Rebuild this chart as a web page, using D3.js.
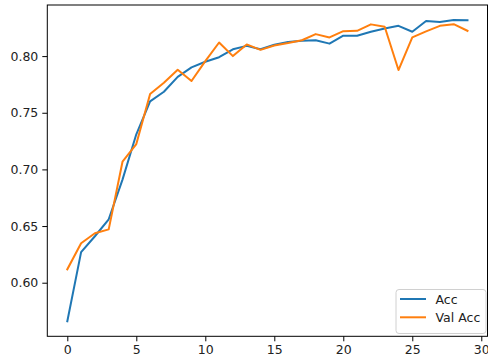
<!DOCTYPE html>
<html><head><meta charset="utf-8">
<script src="https://cdn.jsdelivr.net/npm/d3@7"></script>
<style>
body{margin:0;background:#fff;}
svg{display:block;font-family:"DejaVu Sans",sans-serif;}
</style></head>
<body><svg id="c" width="488" height="356"></svg>
<script>
const epochs = d3.range(0, 30);
const acc = [0.566,0.627,0.641,0.656,0.691,0.731,0.760,0.7685,0.7817,0.790,
             0.795,0.799,0.806,0.809,0.806,0.810,0.8124,0.8135,0.814,0.811,
             0.818,0.818,0.8215,0.8244,0.8267,0.8215,0.831,0.830,0.8318,0.8316];
const valAcc = [0.6118,0.6348,0.6436,0.6471,0.7068,0.7224,0.7665,0.7765,0.788,0.778,
                0.7956,0.812,0.800,0.8103,0.8055,0.8094,0.8115,0.814,0.8194,0.8165,
                0.822,0.8223,0.828,0.8259,0.7877,0.8165,0.8218,0.8267,0.8282,0.8223];
const xTicks = [0,5,10,15,20,25,30];
const yTicks = [0.60,0.65,0.70,0.75,0.80];
const seriesNames = ["Acc","Val Acc"];
const colors = ["#1f77b4","#ff7f0e"];

const svg = d3.select("#c");
const L = 47.3, R = 487.5, T = 5, B = 336.3;
const x = d3.scaleLinear().domain([-1.45, 30.45]).range([L, R]);
const y = d3.scaleLinear().domain([0.5527, 0.8451]).range([B, T]);

const line = d3.line().x((d,i)=>x(epochs[i])).y(d=>y(d));
[acc, valAcc].forEach((s,k)=>{
  svg.append("path").datum(s).attr("d", line)
    .attr("fill","none").attr("stroke",colors[k]).attr("stroke-width",2)
    .attr("stroke-linejoin","round").attr("stroke-linecap","square");
});

const xAxis = d3.axisBottom(x).tickValues(xTicks).tickFormat(d3.format("d")).tickSize(5).tickPadding(4);
const yAxis = d3.axisLeft(y).tickValues(yTicks).tickFormat(d3.format(".2f")).tickSize(5).tickPadding(4);
const gx = svg.append("g").attr("transform",`translate(0,${B})`).call(xAxis);
const gy = svg.append("g").attr("transform",`translate(${L},0)`).call(yAxis);
[gx,gy].forEach(g=>{
  g.select(".domain").remove();
  g.selectAll("line").attr("stroke","#000").attr("stroke-width",1);
  g.selectAll("text").attr("fill","#222").style("font-size","12.5px").style("font-family","DejaVu Sans");
});

// frame
svg.append("rect").attr("x",L).attr("y",T).attr("width",R-L).attr("height",B-T)
  .attr("fill","none").attr("stroke","#000").attr("stroke-width",1);

// legend
const lg = svg.append("g");
lg.append("rect").attr("x",396).attr("y",289.5).attr("width",90).attr("height",44).attr("rx",3)
  .attr("fill","rgba(255,255,255,0.8)").attr("stroke","#d0d0d0").attr("stroke-width",1);
seriesNames.forEach((n,k)=>{
  const yy = 299 + k*18.3;
  lg.append("line").attr("x1",400).attr("x2",426).attr("y1",yy).attr("y2",yy)
    .attr("stroke",colors[k]).attr("stroke-width",2);
  lg.append("text").attr("x",435.5).attr("y",yy+4.5).text(n)
    .attr("fill","#222").style("font-size","12.5px").style("font-family","DejaVu Sans");
});
</script></body></html>
